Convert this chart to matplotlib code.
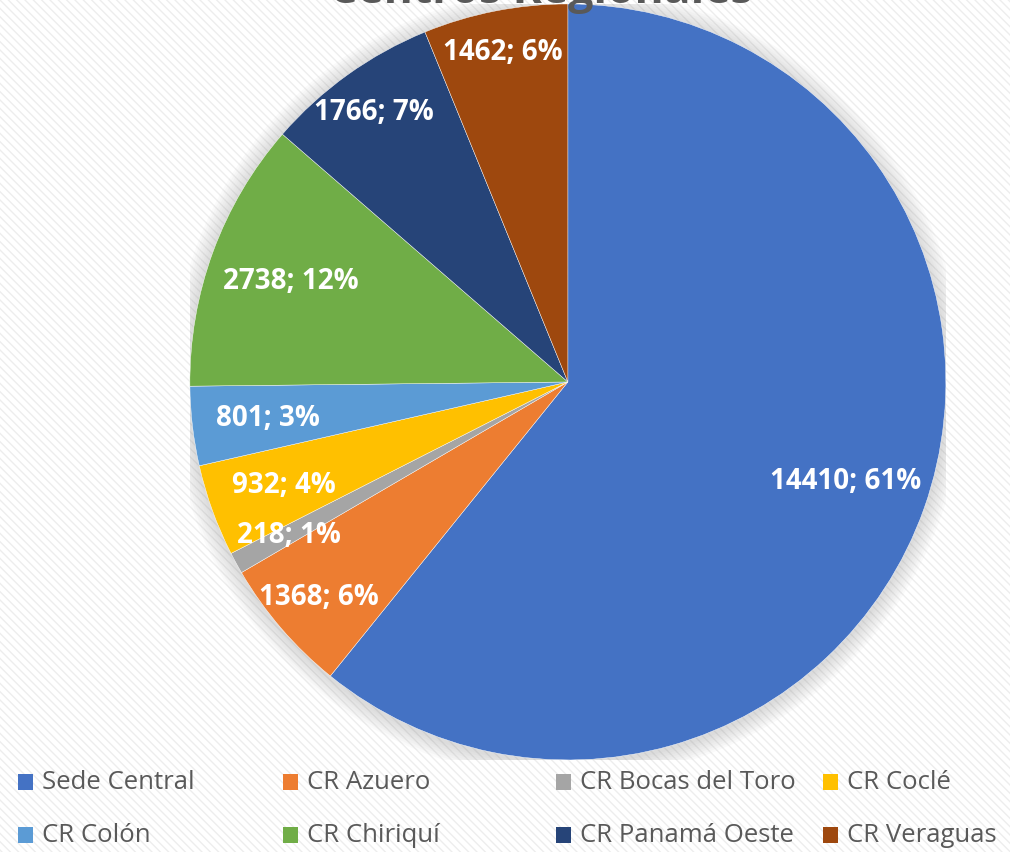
import numpy as np
import matplotlib.pyplot as plt
from matplotlib.patches import Rectangle, Circle

centros = ["Sede Central", "CR Azuero", "CR Bocas del Toro", "CR Coclé",
           "CR Colón", "CR Chiriquí", "CR Panamá Oeste", "CR Veraguas"]
valores = [14410, 1368, 218, 932, 801, 2738, 1766, 1462]
colores = ["#4472C4", "#ED7D31", "#A5A5A5", "#FFC000",
           "#5B9BD5", "#70AD47", "#264478", "#9E480E"]
# how far from the centre each label sits (fraction of radius)
dist_etiqueta = [0.78, 0.87, 0.84, 0.80, 0.80, 0.78, 0.88, 0.89]

plt.rcParams["font.family"] = ["Open Sans", "DejaVu Sans"]

fig = plt.figure(figsize=(10.1, 8.53), dpi=100)

# striped background
fig.patches.append(Rectangle((0, 0), 1, 1, transform=fig.transFigure,
                             facecolor="white", edgecolor="#ededed",
                             hatch="\\\\\\\\", linewidth=0, zorder=-10))

ax = fig.add_axes([0.188, 0.1079, 0.7485, 0.8863])
ax.axis("off")

# soft shadow around the pie
for i in range(8):
    ax.add_patch(Circle((0.0, -0.005), 1.0 + 0.006 * (i + 1),
                        facecolor="#808080", alpha=0.035, linewidth=0,
                        zorder=0))

wedges, _ = ax.pie(valores, colors=colores, startangle=90, counterclock=False,
                   radius=1.0, wedgeprops=dict(edgecolor="white", linewidth=0.3))
for w in wedges:
    w.set_zorder(2)
ax.set_xlim(-1, 1)
ax.set_ylim(-1, 1)
ax.set_aspect("equal")

total = sum(valores)
for w, v, d in zip(wedges, valores, dist_etiqueta):
    ang = np.deg2rad((w.theta1 + w.theta2) / 2)
    pct = round(100 * v / total)
    ax.text(d * np.cos(ang), d * np.sin(ang), f"{v}; {pct}%",
            ha="center", va="center", color="white", fontsize=20,
            fontweight="bold", zorder=5)

fig.text(0.535, 0.9965, "Centros Regionales", ha="center", va="baseline",
         fontsize=32, fontweight="bold", color="#595959")

# legend, two rows of four
col_x = [18, 283, 556, 823]
fila_y = [783, 836]
for i, (nombre, c) in enumerate(zip(centros, colores)):
    x = col_x[i % 4]
    y = fila_y[i // 4]
    fig.patches.append(Rectangle((x / 1010, (853 - y - 8) / 853), 15 / 1010, 16 / 853,
                                 transform=fig.transFigure, facecolor=c,
                                 edgecolor="none", zorder=3))
    fig.text((x + 24) / 1010, (853 - y) / 853, nombre, ha="left", va="center",
             fontsize=18.5, color="#595959")

fig.savefig("out.png", dpi=100)
